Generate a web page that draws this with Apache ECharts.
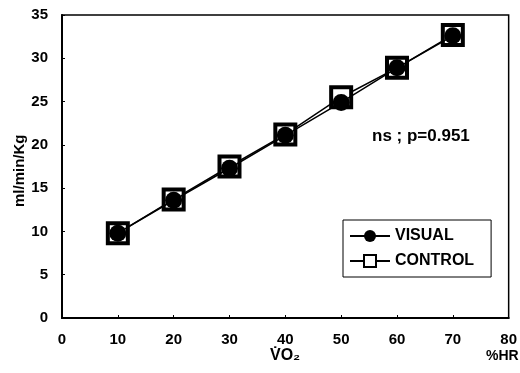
<!DOCTYPE html>
<html><head><meta charset="utf-8">
<script src="https://cdn.jsdelivr.net/npm/echarts@6/dist/echarts.min.js"></script>
<style>html,body{margin:0;padding:0;background:#fff}#c{width:520px;height:373px}</style>
</head><body><div id="c"></div>
<script>
const xValues = [10, 20, 30, 40, 50, 60, 70];
const visual = [9.8, 13.6, 17.3, 21.1, 24.9, 28.9, 32.6];
const control = [9.8, 13.7, 17.5, 21.2, 25.5, 28.9, 32.7];
const xTicks = [0, 10, 20, 30, 40, 50, 60, 70, 80];
const yTicks = [0, 5, 10, 15, 20, 25, 30, 35];
const annotation = 'ns ; p=0.951';

const F = '"Liberation Sans", Arial, sans-serif';
const chart = echarts.init(document.getElementById('c'));
chart.setOption({
  animation: false,
  backgroundColor: '#fff',
  grid: {left: 62, right: 11, top: 15, bottom: 55, show: true, borderColor: '#000', borderWidth: 1.5},
  xAxis: {
    type: 'value', min: 0, max: 80, interval: 10,
    axisLine: {lineStyle: {color: '#000', width: 2}},
    axisTick: {inside: true, length: 3, lineStyle: {color: '#000'}},
    splitLine: {show: false},
    axisLabel: {color: '#000', fontFamily: F, fontWeight: 'bold', fontSize: 15, margin: 14}
  },
  yAxis: {
    type: 'value', min: 0, max: 35, interval: 5,
    axisLine: {lineStyle: {color: '#000', width: 2}},
    axisTick: {inside: true, length: 3, lineStyle: {color: '#000'}},
    splitLine: {show: false},
    axisLabel: {color: '#000', fontFamily: F, fontWeight: 'bold', fontSize: 15, margin: 14}
  },
  legend: {
    orient: 'vertical', left: 343, top: 220,
    borderColor: '#000', borderWidth: 1, padding: [8, 17, 8, 6], itemGap: 9,
    itemWidth: 40, itemHeight: 15,
    textStyle: {color: '#000', fontFamily: F, fontWeight: 'bold', fontSize: 16},
    data: ['VISUAL', 'CONTROL']
  },
  series: [
    {name: 'CONTROL', type: 'line', data: xValues.map((x, i) => [x, control[i]]),
     symbol: 'rect', symbolSize: 20, z: 2,
     itemStyle: {color: '#fff', borderColor: '#000', borderWidth: 4},
     lineStyle: {color: '#000', width: 1.5}},
    {name: 'VISUAL', type: 'line', data: xValues.map((x, i) => [x, visual[i]]),
     symbol: 'circle', symbolSize: 17, z: 3,
     itemStyle: {color: '#000'},
     lineStyle: {color: '#000', width: 1.5}}
  ],
  graphic: [
    {type: 'text', left: 372, top: 128, style: {text: annotation, font: 'bold 17px ' + F, fill: '#000'}},
    {type: 'text', left: 270, top: 348, style: {text: 'V\u0307O\u2082', font: 'bold 16px ' + F, fill: '#000'}},
    {type: 'text', left: 486, top: 349, style: {text: '%HR', font: 'bold 14px ' + F, fill: '#000'}},
    {type: 'text', x: 12, y: 207, rotation: Math.PI / 2, style: {text: 'ml/min/Kg', font: 'bold 15px ' + F, fill: '#000'}}
  ]
});
</script></body></html>
